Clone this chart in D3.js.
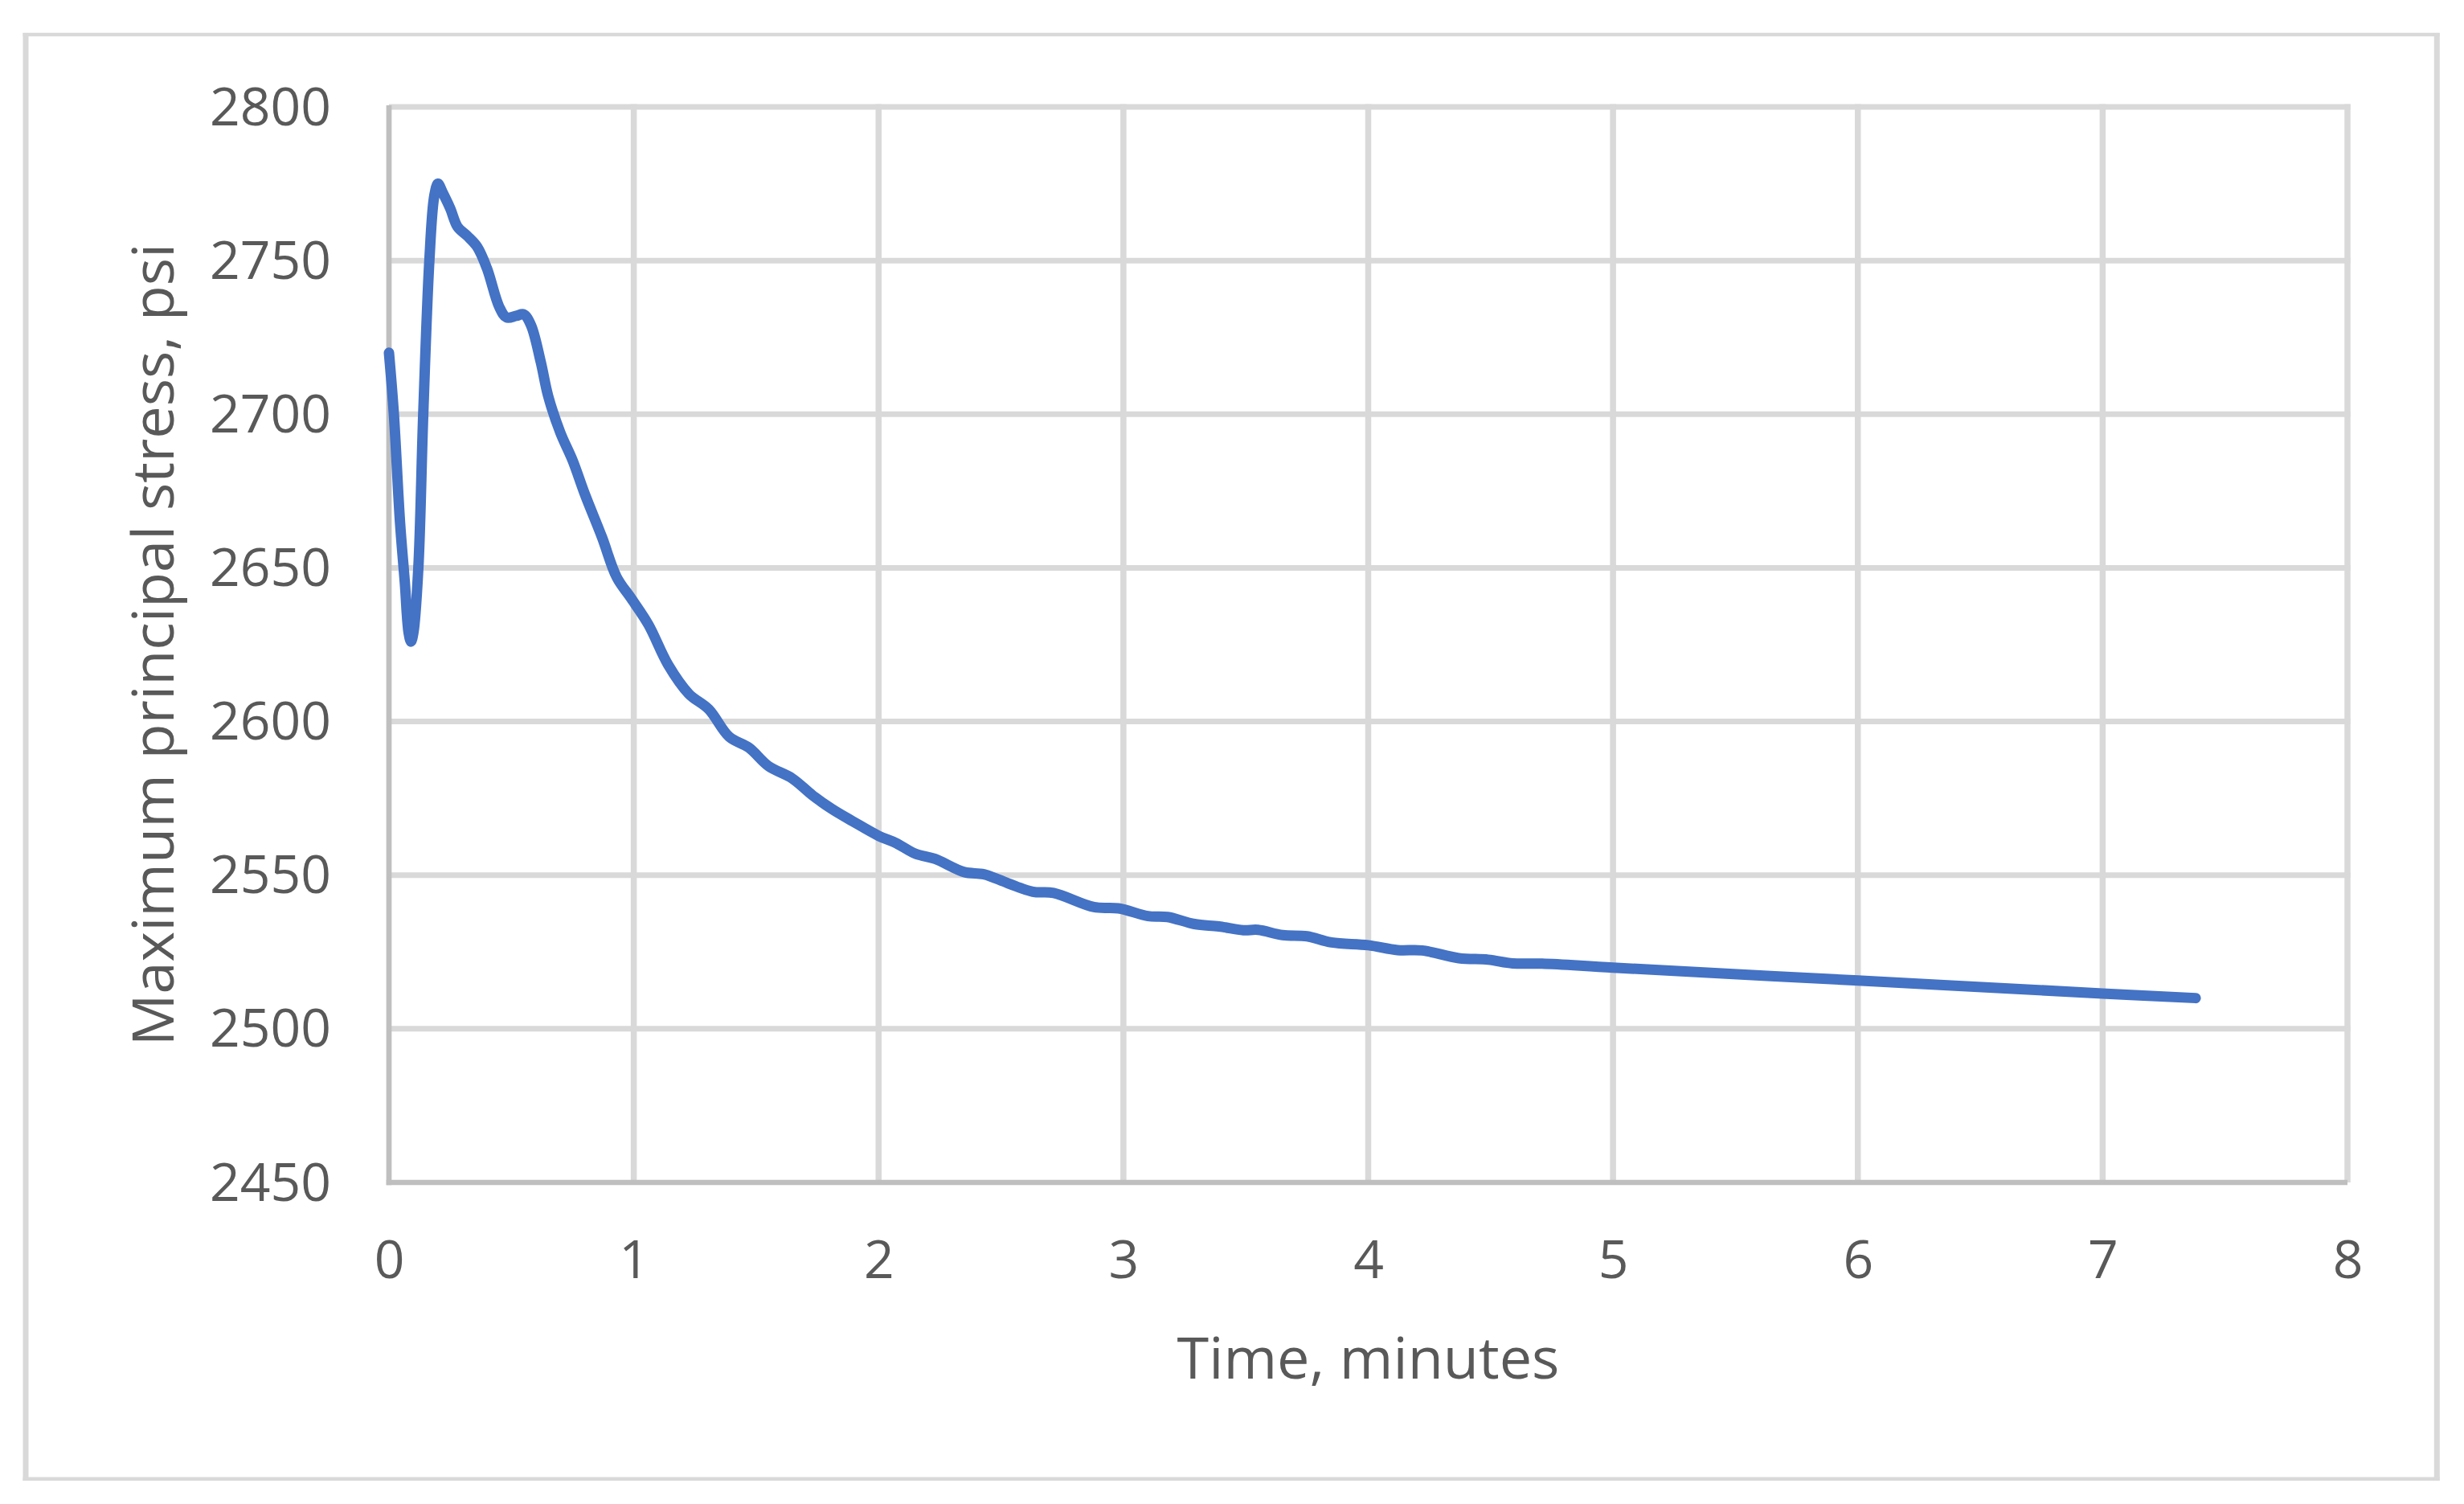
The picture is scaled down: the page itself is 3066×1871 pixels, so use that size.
<!DOCTYPE html>
<html>
<head>
<meta charset="utf-8">
<script src="https://cdn.jsdelivr.net/npm/d3@7"></script>
<style>
  html, body { margin: 0; padding: 0; background: #ffffff; }
  svg { display: block; }
</style>
</head>
<body>
<svg id="chart" width="3066" height="1871"></svg>
<script>
// ---- Data ----
const timeMin = [0, 0.02, 0.045, 0.065, 0.08, 0.09, 0.1, 0.12, 0.14, 0.165, 0.185, 0.2, 0.22, 0.25, 0.28, 0.32, 0.36, 0.40, 0.45, 0.48, 0.52, 0.55, 0.58, 0.62, 0.65, 0.70, 0.75, 0.80, 0.87, 0.93, 0.99, 1.06, 1.14, 1.225, 1.306, 1.39, 1.47, 1.55, 1.647, 1.73, 1.81, 1.895, 2.0, 2.07, 2.15, 2.23, 2.35, 2.43, 2.525, 2.63, 2.715, 2.88, 2.98, 3.10, 3.18, 3.29, 3.39, 3.49, 3.55, 3.65, 3.75, 3.85, 4.0, 4.12, 4.22, 4.37, 4.49, 4.59, 4.71, 5.0, 6.0, 7.0, 7.38];
const stressPsi = [2720, 2700, 2665, 2645, 2629, 2626, 2629, 2650, 2700, 2750, 2771, 2775, 2772, 2767, 2761, 2758, 2754.5, 2747.5, 2735, 2731.5, 2732, 2732.5, 2729, 2717, 2706, 2694, 2685, 2674, 2660, 2647, 2640, 2631.5, 2618.5, 2609, 2604, 2595, 2591.5, 2585.5, 2581.5, 2576, 2571.5, 2567.5, 2562.8, 2560.5, 2557, 2555.3, 2551, 2550.3, 2547.5, 2544.6, 2544.2, 2539.6, 2539.2, 2536.7, 2536.4, 2534.1, 2533.3, 2532.1, 2532.2, 2530.5, 2530.1, 2528.1, 2527.2, 2525.6, 2525.5, 2523, 2522.5, 2521.3, 2521.2, 2519.9, 2515.7, 2511.5, 2510];
const xTicks = [0, 1, 2, 3, 4, 5, 6, 7, 8];
const yTicks = [2450, 2500, 2550, 2600, 2650, 2700, 2750, 2800];
const xTitle = "Time, minutes";
const yTitle = "Maximum principal stress, psi";

(function () {
// ---- Layout ----
const svg = d3.select("#chart");
const pL = 484, pR = 2921, pT = 133, pB = 1471;
const x = d3.scaleLinear().domain([0, 8]).range([pL, pR]);
const y = d3.scaleLinear().domain([2450, 2800]).range([pB, pT]);
const font = "'Open Sans', 'Noto Sans', sans-serif";
const textColor = "#595959";

svg.append("rect").attr("width", 3066).attr("height", 1871).attr("fill", "#ffffff");

// Outer chart border
const bord = svg.append("g").attr("stroke", "#d9d9d9").attr("fill", "none");
bord.append("line").attr("x1", 28.5).attr("x2", 3035.5).attr("y1", 43).attr("y2", 43).attr("stroke-width", 4.5);
bord.append("line").attr("x1", 28.5).attr("x2", 3035.5).attr("y1", 1839.7).attr("y2", 1839.7).attr("stroke-width", 4.5);
bord.append("line").attr("x1", 32).attr("x2", 32).attr("y1", 41).attr("y2", 1842).attr("stroke-width", 7);
bord.append("line").attr("x1", 3032.3).attr("x2", 3032.3).attr("y1", 41).attr("y2", 1842).attr("stroke-width", 7);

// Gridlines
const grid = svg.append("g");
grid.selectAll(".hg").data(yTicks.filter(d => d !== 2450)).join("line")
  .attr("x1", pL).attr("x2", pR + 3.5)
  .attr("y1", d => y(d)).attr("y2", d => y(d))
  .attr("stroke", "#d9d9d9").attr("stroke-width", 7);
grid.selectAll(".vg").data(xTicks.filter(d => d !== 0)).join("line")
  .attr("x1", d => x(d)).attr("x2", d => x(d))
  .attr("y1", pT - 3.5).attr("y2", pB)
  .attr("stroke", "#d9d9d9").attr("stroke-width", 7.5);

// Axis lines
svg.append("line").attr("x1", pL).attr("x2", pL).attr("y1", pT - 2).attr("y2", pB + 3.3)
  .attr("stroke", "#bfbfbf").attr("stroke-width", 6.7);
svg.append("line").attr("x1", pL - 3.3).attr("x2", pR).attr("y1", pB).attr("y2", pB)
  .attr("stroke", "#bfbfbf").attr("stroke-width", 6.7);

// Axes (labels only) via d3 axes
const xAxis = d3.axisBottom(x).tickValues(xTicks).tickSize(0).tickPadding(0).tickFormat(d3.format("d"));
const gx = svg.append("g").attr("transform", `translate(0,${pB})`).call(xAxis);
gx.select(".domain").remove();
gx.selectAll("text").attr("dy", null).attr("y", 119)
  .attr("font-family", font).attr("font-size", 66).attr("fill", textColor);

const yAxis = d3.axisLeft(y).tickValues(yTicks).tickSize(0).tickPadding(0).tickFormat(d3.format("d"));
const gy = svg.append("g").attr("transform", `translate(412,0)`).call(yAxis);
gy.select(".domain").remove();
gy.selectAll("text").attr("dy", null).attr("x", 0).attr("y", 22)
  .attr("text-anchor", "end")
  .attr("font-family", font).attr("font-size", 66).attr("fill", textColor);

// Axis titles
svg.append("text").attr("x", (pL + pR) / 2).attr("y", 1715)
  .attr("text-anchor", "middle").attr("font-family", font).attr("font-size", 72)
  .attr("fill", textColor).text(xTitle);
svg.append("text").attr("transform", `translate(216,${(pT + pB) / 2}) rotate(-90)`)
  .attr("text-anchor", "middle").attr("font-family", font).attr("font-size", 72)
  .attr("fill", textColor).text(yTitle);

// Series line
const pts = timeMin.map((t, i) => [t, stressPsi[i]]);
const line = d3.line().x(d => x(d[0])).y(d => y(d[1])).curve(d3.curveCatmullRom.alpha(0.5));
svg.append("path").datum(pts).attr("d", line)
  .attr("fill", "none").attr("stroke", "#4472c4").attr("stroke-width", 13)
  .attr("stroke-linecap", "round").attr("stroke-linejoin", "round");
})();
</script>
</body>
</html>
